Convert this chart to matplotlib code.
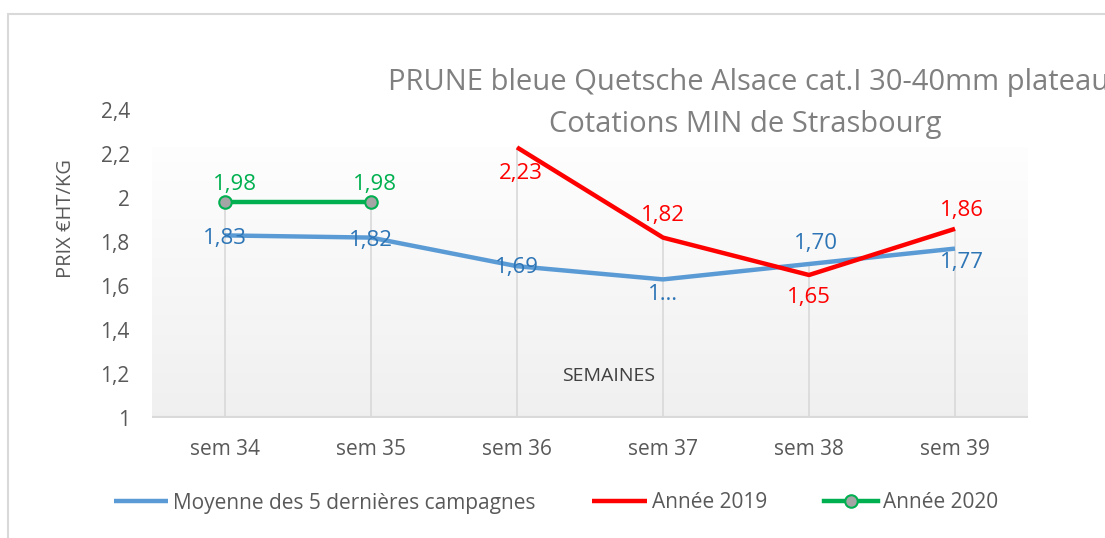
import numpy as np
import matplotlib
matplotlib.use("Agg")
import matplotlib.pyplot as plt
from matplotlib.patches import Rectangle
from matplotlib.ticker import FuncFormatter

plt.rcParams['font.family'] = ['Open Sans', 'DejaVu Sans']

# ---- data ----
categories = ["sem 34", "sem 35", "sem 36", "sem 37", "sem 38", "sem 39"]
moyenne = [1.83, 1.82, 1.69, 1.63, 1.70, 1.77]
annee_2019 = [np.nan, np.nan, 2.23, 1.82, 1.65, 1.86]
annee_2020 = [1.98, 1.98, np.nan, np.nan, np.nan, np.nan]
moyenne_labels = ["1,83", "1,82", "1,69", "1…", "1,70", "1,77"]
labels_2019 = [None, None, "2,23", "1,82", "1,65", "1,86"]
labels_2020 = ["1,98", "1,98", None, None, None, None]
yticks = [1, 1.2, 1.4, 1.6, 1.8, 2, 2.2, 2.4]

W, H = 1105, 538
fig = plt.figure(figsize=(W / 100, H / 100), dpi=100)

def fx(px):
    return px / W

def fy(py):
    return 1 - py / H

# outer frame
fig.patches.append(Rectangle((fx(8), -0.2), 1.3, fy(14) + 0.2, transform=fig.transFigure,
                             fill=False, edgecolor="#d9d9d9", lw=1.5, zorder=0))

ax = fig.add_axes([fx(152), fy(418), fx(1028) - fx(152), (418 - 110) / H])
ax.set_facecolor("none")
for s in ax.spines.values():
    s.set_visible(False)

x = np.arange(len(categories))

# gradient plot-area background
grad = np.linspace(0, 1, 256).reshape(-1, 1)
top_c = np.array([0.995, 0.995, 0.995])
bot_c = np.array([0.94, 0.94, 0.94])
img = top_c * grad[..., None] + bot_c * (1 - grad[..., None])
ax.imshow(img, extent=(-0.5, len(categories) - 0.5, 1, 2.23), aspect="auto",
          origin="lower", zorder=0)
ax.set_xlim(-0.5, len(categories) - 0.5)
ax.set_ylim(1, 2.4)

# drop lines from the highest value in each category
stack = np.vstack([moyenne, annee_2019, annee_2020])
top_vals = np.nanmax(stack, axis=0)
ax.vlines(x, 1, top_vals, colors="#d9d9d9", lw=1.2, zorder=1)

# bottom axis line
ax.axhline(1, color="#d9d9d9", lw=3, zorder=1)

l1, = ax.plot(x, moyenne, color="#5b9bd5", lw=3.2, solid_capstyle="butt", zorder=3,
              label="Moyenne des 5 dernières campagnes")
l2, = ax.plot(x, annee_2019, color="#ff0000", lw=3.2, solid_capstyle="butt", zorder=4,
              label="Année 2019")
l3, = ax.plot(x, annee_2020, color="#00b050", lw=3.2, zorder=5, marker="o", markersize=9,
              markerfacecolor="#a5a5a5", markeredgecolor="#00b050", markeredgewidth=1.5,
              label="Année 2020")

fs = 15
fs_lab = 16
# data labels (offsets in points)
off_moy = [(0, -2), (0, -2), (0, -1), (0, -11), (5, 15), (5, -10)]
off_19 = [None, None, (3, -19), (0, 16), (0, -16), (5, 13)]
off_20 = [(7, 13), (3, 13), None, None, None, None]
for i in range(len(categories)):
    ax.annotate(moyenne_labels[i], (x[i], moyenne[i]), xytext=off_moy[i], textcoords="offset points",
                ha="center", va="center", color="#2e75b6", fontsize=fs_lab, zorder=6)
    if labels_2019[i]:
        ax.annotate(labels_2019[i], (x[i], annee_2019[i]), xytext=off_19[i], textcoords="offset points",
                    ha="center", va="center", color="#ff0000", fontsize=fs_lab, zorder=6)
    if labels_2020[i]:
        ax.annotate(labels_2020[i], (x[i], annee_2020[i]), xytext=off_20[i], textcoords="offset points",
                    ha="center", va="center", color="#00b050", fontsize=fs_lab, zorder=6)

ax.set_xticks(x)
ax.set_xticklabels(categories)
ax.set_yticks(yticks)
ax.yaxis.set_major_formatter(FuncFormatter(lambda v, p: ("%g" % v).replace(".", ",")))
ax.tick_params(axis="both", length=0, labelsize=fs, labelcolor="#595959")
ax.tick_params(axis="y", pad=16)
ax.tick_params(axis="x", pad=15)

fig.text(fx(66), fy(219), "PRIX €HT/KG", rotation=90, ha="center", va="center",
         fontsize=14.5, color="#595959")
fig.text(fx(609), fy(376), "SEMAINES", ha="center", va="center", fontsize=14, color="#404040")

fig.text(fx(749), fy(90), "PRUNE bleue Quetsche Alsace cat.I 30-40mm plateau", ha="center",
         va="baseline", fontsize=21, color="#808080")
fig.text(fx(745), fy(132), "Cotations MIN de Strasbourg", ha="center", va="baseline",
         fontsize=21, color="#808080")

fig.legend(handles=[l1, l2, l3], loc="center", bbox_to_anchor=(fx(556), fy(503)), ncol=3,
           frameon=False, fontsize=fs, handlelength=2.6, handletextpad=0.24, columnspacing=2.74,
           labelcolor="#595959")

fig.savefig("out.png", dpi=100)
